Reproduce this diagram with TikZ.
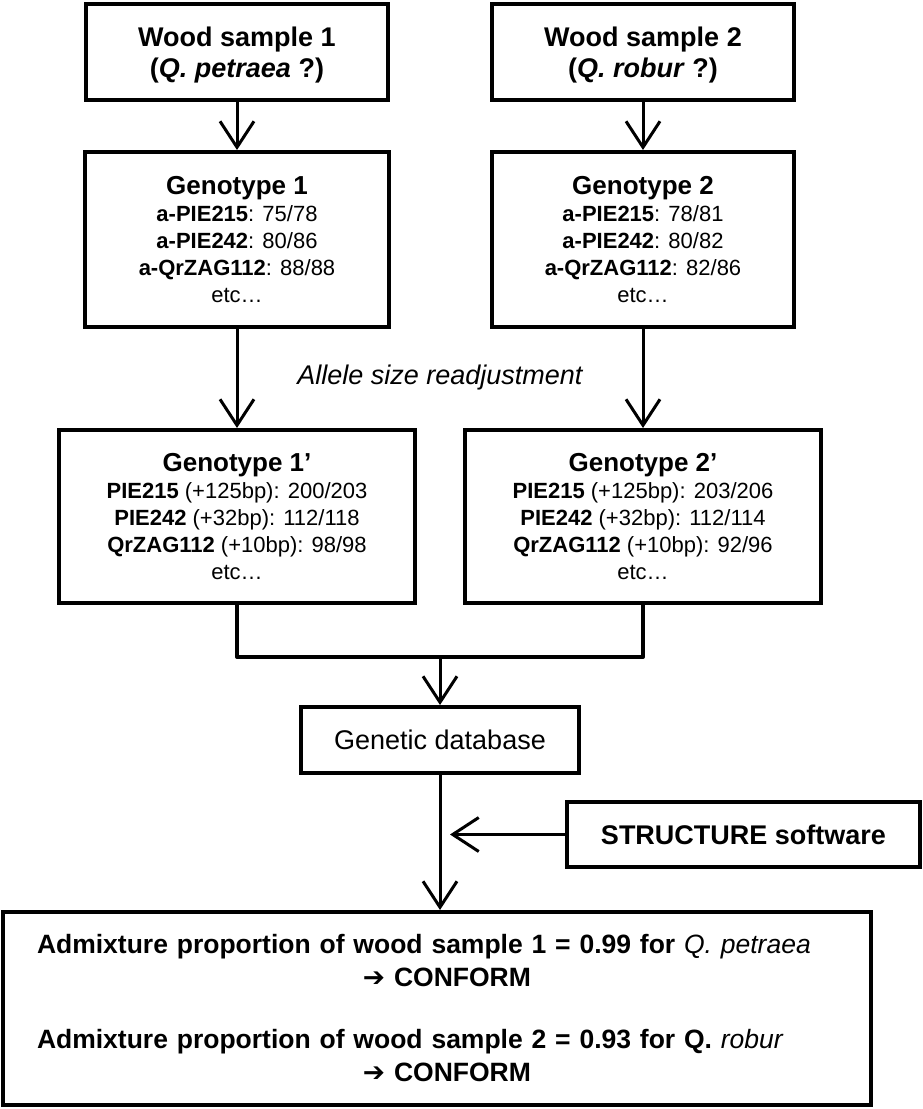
\documentclass[tikz,border=0pt]{standalone}
\usepackage{fontspec}
\setmainfont{Liberation Sans}
\newfontfamily\arrowfont{DejaVu Sans}
\usetikzlibrary{arrows.meta,calc}
\tikzset{every picture/.style={
  >={Straight Barb[length=26pt,width=34pt]}   % Open V arrow heads.
  }
}
\newcommand{\head}[1]{{\fontsize{26}{31}\selectfont\bfseries #1}}
\newcommand{\locus}[1]{\textbf{#1}}
\newcommand{\species}[1]{\textit{#1}}
\newcommand{\verdict}{\hspace*{326pt}{\arrowfont ➔} CONFORM}

\begin{document}
\begin{tikzpicture}[x=1pt,y=-1pt,
  box/.style={draw,line width=4pt,align=center,inner sep=0pt,
    font=\fontsize{22}{27}\selectfont},
  bigbox/.style={box,font=\fontsize{27}{31}\selectfont},
  flow/.style={->,line width=3pt}]
  \useasboundingbox (0,0) rectangle (923,1109);
  % wood samples
  \node[bigbox,font=\fontsize{27}{31}\selectfont\bfseries,text depth=0pt,
    minimum width=302pt,minimum height=96pt] (wood1) at (237,52)
    {Wood sample 1\\(\species{Q. petraea} ?)};
  \node[bigbox,font=\fontsize{27}{31}\selectfont\bfseries,text depth=0pt,
    minimum width=302pt,minimum height=96pt] (wood2) at (643,52)
    {Wood sample 2\\(\species{Q. robur} ?)};
  % raw genotypes
  \node[box,minimum width=304pt,minimum height=175pt] (geno1) at (237,239.5)
    {\head{Genotype 1}\\ \locus{a-PIE215}: 75/78\\ \locus{a-PIE242}: 80/86\\
     \locus{a-QrZAG112}: 88/88\\ etc…};
  \node[box,minimum width=302pt,minimum height=175pt] (geno2) at (643,239.5)
    {\head{Genotype 2}\\ \locus{a-PIE215}: 78/81\\ \locus{a-PIE242}: 80/82\\
     \locus{a-QrZAG112}: 82/86\\ etc…};
  % readjusted genotypes
  \node[box,minimum width=356pt,minimum height=173pt] (adj1) at (237,516.5)
    {\head{Genotype 1’}\\ \locus{PIE215} (+125bp): 200/203\\
     \locus{PIE242} (+32bp): 112/118\\ \locus{QrZAG112} (+10bp): 98/98\\ etc…};
  \node[box,minimum width=356pt,minimum height=173pt] (adj2) at (643,516.5)
    {\head{Genotype 2’}\\ \locus{PIE215} (+125bp): 203/206\\
     \locus{PIE242} (+32bp): 112/114\\ \locus{QrZAG112} (+10bp): 92/96\\ etc…};
  \node[font=\fontsize{27}{31}\selectfont\itshape] (readj) at (440,378)
    {Allele size readjustment};
  \node[bigbox,minimum width=278pt,minimum height=66pt] (db) at (440,740)
    {Genetic database};
  \node[bigbox,font=\fontsize{27}{31}\selectfont\bfseries,
    minimum width=353pt,minimum height=65pt] (soft) at (743.5,834.5)
    {STRUCTURE software};
  \node[bigbox,font=\fontsize{26.5}{33}\selectfont\bfseries,align=left,
    text width=800pt,minimum width=868pt,minimum height=193pt] (result) at (437,1008.5)
    {Admixture proportion of wood sample 1 = 0.99 for \species{\mdseries Q. petraea}\\
     \verdict\\[29pt]
     Admixture proportion of wood sample 2 = 0.93 for Q. \species{\mdseries robur}\\
     \verdict};
  \coordinate (join) at (440,657);
  \coordinate (tip) at (450,834.5);
  % connectors
  \draw[flow] (wood1) -- (geno1);
  \draw[flow] (wood2) -- (geno2);
  \draw[flow] (geno1) -- (adj1.north -| geno1.south);
  \draw[flow] (geno2) -- (adj2.north -| geno2.south);
  \draw[line width=4pt,line join=round] (adj1.south) |- (join) -| (adj2.south);
  \draw[flow] (join) -- (db);
  \draw[flow] (db.south) -- (db.south |- result.north);
  \draw[flow] (soft.west) -- (tip);
\end{tikzpicture}
\end{document}
